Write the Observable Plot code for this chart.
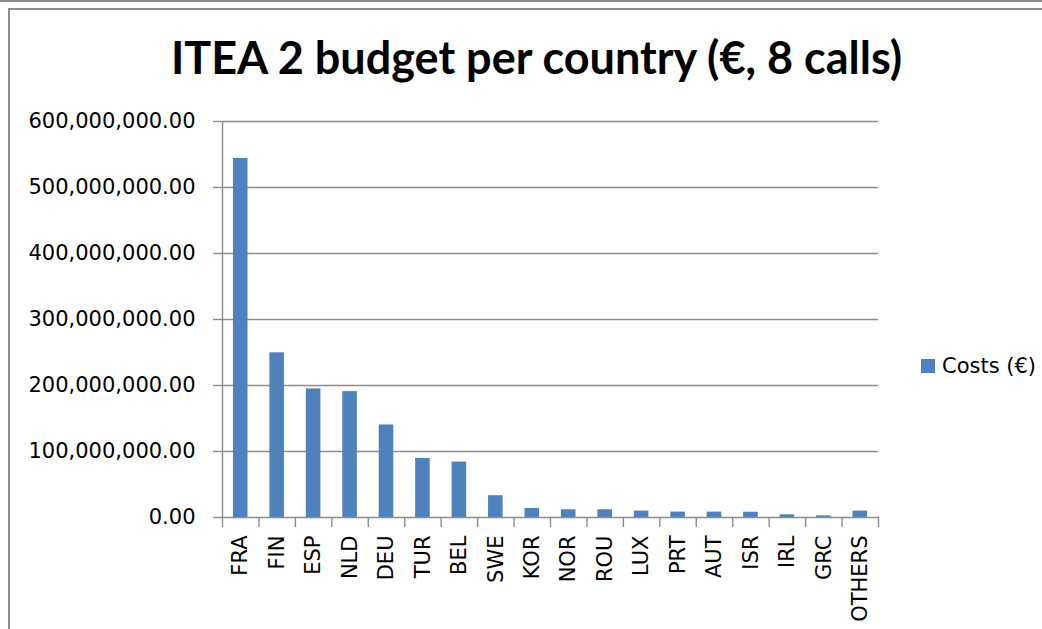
<!DOCTYPE html>
<html>
<head>
<meta charset="utf-8">
<script src="https://cdn.jsdelivr.net/npm/d3@7"></script>
<script src="https://cdn.jsdelivr.net/npm/@observablehq/plot@0.6"></script>
<style>
  html, body { margin: 0; padding: 0; background: #fff; width: 1042px; height: 629px; overflow: hidden; position: relative; }
  #topline { position: absolute; left: 0; top: 0; width: 1042px; height: 2px; background: #8c8c8c; }
  #frame { position: absolute; left: 8px; top: 8px; width: 1100px; height: 700px; border-left: 2px solid #8c8c8c; border-top: 2px solid #8c8c8c; }
  #title { position: absolute; left: 0; width: 1073px; top: 29px; text-align: center; font-family: Lato, sans-serif; font-weight: 700; font-size: 45px; line-height: 56px; color: #000; white-space: nowrap; }
  #chart { position: absolute; left: 0; top: 100px; }
  #legend { position: absolute; left: 921px; top: 353px; font-family: "DejaVu Sans", sans-serif; font-size: 21px; line-height: 26px; color: #000; display: flex; align-items: center; white-space: nowrap; }
  #legend .sw { width: 14px; height: 14px; background: #4F81BD; margin-right: 7px; }
</style>
</head>
<body>
<div id="topline"></div>
<div id="frame"></div>
<div id="title"></div>
<div id="chart"></div>
<div id="legend"><span class="sw"></span><span id="legendText"></span></div>
<script>
const title = "ITEA 2 budget per country (€, 8 calls)";
const seriesName = "Costs (€)";
const countries = ["FRA","FIN","ESP","NLD","DEU","TUR","BEL","SWE","KOR","NOR","ROU","LUX","PRT","AUT","ISR","IRL","GRC","OTHERS"];
const costs = [544e6, 249.5e6, 194.8e6, 190.7e6, 140.2e6, 89.5e6, 84e6, 33e6, 13.7e6, 11.7e6, 11.7e6, 9.7e6, 8.2e6, 8.2e6, 8e6, 4e6, 2.5e6, 9.7e6];
const yTicks = [0, 100e6, 200e6, 300e6, 400e6, 500e6, 600e6];

document.getElementById("title").textContent = title;
document.getElementById("legendText").textContent = seriesName;

const n = countries.length;
const data = countries.map((c, i) => ({country: c, index: i, cost: costs[i]}));
const gray = "#8c8c8c";

const chart = Plot.plot({
  width: 1042,
  height: 529,
  marginLeft: 222,
  marginRight: 164,
  marginTop: 21,
  marginBottom: 112,
  style: {fontFamily: "DejaVu Sans, sans-serif", fontSize: "21px", background: "transparent", color: "#000"},
  x: {type: "linear", domain: [0, n], axis: null},
  y: {domain: [0, 600e6], axis: null},
  marks: [
    Plot.ruleY(yTicks, {stroke: gray, strokeWidth: 1.4}),
    Plot.ruleX([0], {y1: 0, y2: 600e6, stroke: gray, strokeWidth: 1.4}),
    Plot.rect(data, {x1: d => d.index + 0.3, x2: d => d.index + 0.7, y1: 0, y2: "cost", fill: "#4F81BD"}),
    Plot.axisY({ticks: yTicks, tickFormat: d3.format(",.2f"), tickSize: 9, tickPadding: 18, stroke: gray, strokeWidth: 1.4, fill: "#000", fontSize: 21, label: null}),
    Plot.axisX({ticks: d3.range(n + 1), tickFormat: () => "", tickSize: 10, stroke: gray, strokeWidth: 1.4, label: null}),
    Plot.axisX({ticks: data.map(d => d.index + 0.5), tickFormat: v => countries[Math.floor(v)], tickSize: 0, tickPadding: 18, tickRotate: -90, fill: "#000", fontSize: 21, label: null})
  ]
});
document.getElementById("chart").appendChild(chart);
</script>
</body>
</html>
